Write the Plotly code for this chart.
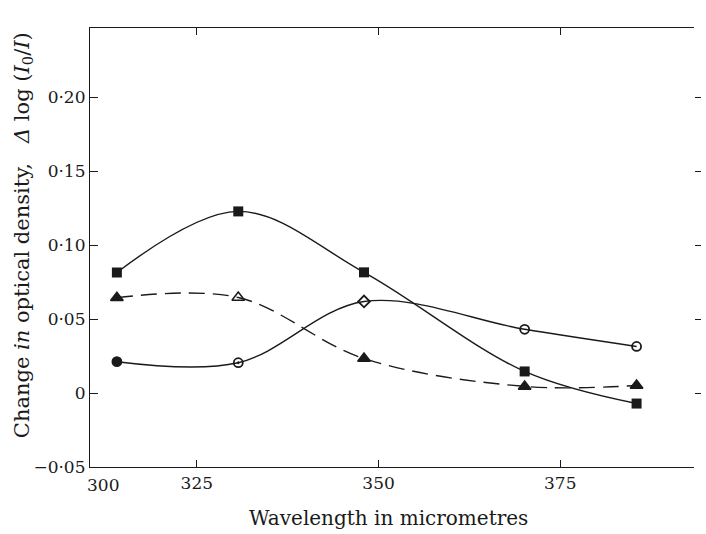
import plotly.graph_objects as go

# Data
wavelength = [314.0, 330.7, 348.0, 370.1, 385.5]
squares = [0.0815, 0.1228, 0.0816, 0.0146, -0.0071]
triangles = [0.0645, 0.0646, 0.0233, 0.0045, 0.0051]
circles = [0.0212, 0.0205, 0.0619, 0.0431, 0.0315]

x_ticks = [325, 350, 375]
x_ticktext = ["325", "350", "375"]
y_ticks = [-0.05, 0.0, 0.05, 0.10, 0.15, 0.20]
y_ticktext = ["\u22120\u00b705", "0", "0\u00b705", "0\u00b710", "0\u00b715", "0\u00b720"]

ink = "#1a1a1a"
serif = "DejaVu Serif"

fig = go.Figure()

fig.add_trace(go.Scatter(
    x=wavelength, y=squares, mode="lines+markers",
    line=dict(color=ink, width=1.4, shape="spline", smoothing=1.0),
    marker=dict(symbol="square", size=10, color=ink),
    showlegend=False))

fig.add_trace(go.Scatter(
    x=wavelength, y=triangles, mode="lines+markers",
    line=dict(color=ink, width=1.4, shape="spline", smoothing=1.0, dash="16px,8px"),
    marker=dict(symbol=["triangle-up", "triangle-up-open", "triangle-up", "triangle-up", "triangle-up"],
                size=11, color=ink, line=dict(color=ink, width=1.5)),
    showlegend=False))

fig.add_trace(go.Scatter(
    x=wavelength, y=circles, mode="lines+markers",
    line=dict(color=ink, width=1.4, shape="spline", smoothing=1.0),
    marker=dict(symbol=["circle", "circle-open-dot", "diamond-open", "circle-open", "circle-open"],
                size=9, color=ink, line=dict(color=ink, width=1.8)),
    showlegend=False))

# invisible trace on right-hand axis for outside ticks
fig.add_trace(go.Scatter(x=[wavelength[0]], y=[squares[0]], yaxis="y2",
                         mode="markers", marker=dict(opacity=0), showlegend=False,
                         hoverinfo="skip"))

fig.update_layout(
    width=706, height=534,
    margin=dict(l=90, r=6, t=28, b=67),
    paper_bgcolor="white", plot_bgcolor="white",
    font=dict(family=serif, color=ink, size=15),
    xaxis=dict(range=[310.3, 393.4], tickvals=x_ticks, ticktext=x_ticktext,
               showgrid=False, zeroline=False, showline=True, linecolor=ink, linewidth=1.2,
               mirror="ticks", ticks="inside", ticklen=7, tickcolor=ink,
               tickfont=dict(family=serif, size=17)),
    yaxis=dict(range=[-0.05, 0.2468], tickvals=y_ticks, ticktext=y_ticktext,
               showgrid=False, zeroline=False, showline=True, linecolor=ink, linewidth=1.2,
               ticks="inside", ticklen=8, tickcolor=ink,
               tickfont=dict(family=serif, size=17)),
    yaxis2=dict(range=[-0.05, 0.2468], overlaying="y", side="right", tickvals=y_ticks[1:],
                showticklabels=False, showgrid=False, zeroline=False, showline=False,
                ticks="outside", ticklen=6, tickcolor=ink),
    annotations=[
        dict(text="Change <i>in</i> optical density,   <i>\u0394</i> log (<i>I</i><sub>0</sub>/<i>I</i>)",
             xref="paper", yref="paper", x=-0.111, y=0.528, textangle=-90,
             showarrow=False, xanchor="center", yanchor="middle",
             font=dict(family=serif, size=21, color=ink)),
        dict(text="Wavelength in micrometres", xref="paper", yref="paper",
             x=0.495, y=-0.116, showarrow=False, xanchor="center", yanchor="middle",
             font=dict(family=serif, size=20, color=ink)),
        dict(text="300", xref="paper", yref="paper", x=(103 - 90) / 610, y=-0.04,
             showarrow=False, xanchor="center", yanchor="middle",
             font=dict(family=serif, size=17, color=ink)),
    ],
)

fig.write_html("out.html", config={"displayModeBar": False},
               post_script="document.body.style.margin='0';")
